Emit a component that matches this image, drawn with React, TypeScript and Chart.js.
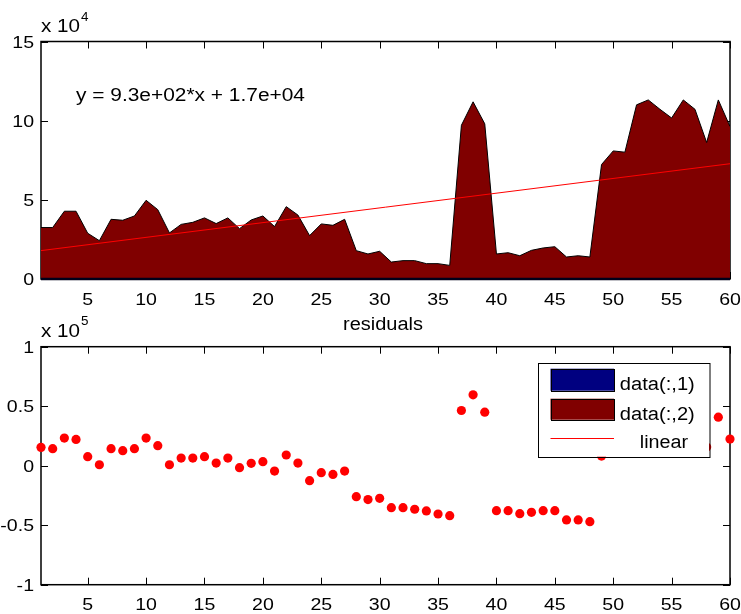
import React, { useEffect, useRef } from 'react';
import { Chart, registerables } from 'chart.js';

Chart.register(...registerables);

// ---------- data ----------
const xValues = [
  1, 2, 3, 4, 5, 6, 7, 8, 9, 10, 11, 12, 13, 14, 15, 16, 17, 18, 19, 20,
  21, 22, 23, 24, 25, 26, 27, 28, 29, 30, 31, 32, 33, 34, 35, 36, 37, 38, 39, 40,
  41, 42, 43, 44, 45, 46, 47, 48, 49, 50, 51, 52, 53, 54, 55, 56, 57, 58, 59, 60,
];

const data1 = [
  0, 0, 0, 0, 0, 0, 0, 0, 0, 0, 0, 0, 0, 0, 0, 0, 0, 0, 0, 0,
  0, 0, 0, 0, 0, 0, 0, 0, 0, 0, 0, 0, 0, 0, 0, 0, 0, 0, 0, 0,
  0, 0, 0, 0, 0, 0, 0, 0, 0, 0, 0, 0, 0, 0, 0, 0, 0, 0, 0, 0,
];

const data2 = [
  32500, 32500, 42800, 42800, 28900, 24200, 37700, 37100, 39800, 49700,
  43800, 29100, 34500, 35800, 38600, 35000, 38600, 31800, 37300, 39800,
  33100, 45700, 40400, 27400, 34800, 33900, 37700, 17900, 15800, 17500,
  10700, 11600, 11600, 9700, 9700, 8600, 97100, 111900, 98000, 15800,
  16600, 14700, 18100, 19600, 20400, 13900, 14700, 13900, 72300, 80900,
  80100, 110000, 113100, 107200, 101700, 113100, 107200, 86200, 113100, 96300,
];

// linear fit y = 9.3e+02*x + 1.7e+04, end points
const fitX = [1, 60];
const fitY = [17930, 72800];

const residuals = [
  15400, 14300, 23200, 22100, 7600, 800, 14300, 12600, 14300, 23200,
  16800, 800, 6400, 6400, 7600, 2200, 6400, -1700, 2000, 3400,
  -4500, 9000, 2200, -12600, -5900, -7300, -4500, -26000, -28500, -27400,
  -35300, -35300, -36600, -38000, -40600, -42000, 46400, 59600, 45000, -37800,
  -37800, -40300, -39200, -37800, -37800, -45600, -45600, -47000, 8100, 17400,
  15700, 44600, 46800, 40000, 33600, 44000, 37200, 15700, 40800, 22400,
];

const xTicks = [5, 10, 15, 20, 25, 30, 35, 40, 45, 50, 55, 60];
const topYTicks = [0, 50000, 100000, 150000];
const botYTicks = [-100000, -50000, 0, 50000, 100000];

const equationText = 'y = 9.3e+02*x + 1.7e+04';
const legendLabels = ['data(:,1)', 'data(:,2)', 'linear'];
const bottomTitle = 'residuals';

// ---------- styling ----------
const FONT = '"Liberation Sans", Arial, Helvetica, sans-serif';
const AREA_RED = '#800000';
const NAVY = '#000080';
const RED = '#ff0000';
const TICK_FONT = `17px ${FONT}`;
const TICK_SX = 1.15;

function fitText(ctx: CanvasRenderingContext2D, text: string, x: number, y: number, width: number, font: string, align: 'left' | 'center' = 'left') {
  ctx.save();
  ctx.font = font;
  const w = ctx.measureText(text).width;
  const sx = width / w;
  const left = align === 'center' ? x - width / 2 : x;
  ctx.translate(left, y);
  ctx.scale(sx, 1);
  ctx.textAlign = 'left';
  ctx.textBaseline = 'alphabetic';
  ctx.fillStyle = '#000';
  ctx.fillText(text, 0, 0);
  ctx.restore();
}

function scaledText(ctx: CanvasRenderingContext2D, text: string, x: number, y: number, align: 'right' | 'center') {
  ctx.save();
  ctx.font = TICK_FONT;
  const w = ctx.measureText(text).width * TICK_SX;
  const left = align === 'right' ? x - w : x - w / 2;
  ctx.translate(left, y);
  ctx.scale(TICK_SX, 1);
  ctx.textAlign = 'left';
  ctx.textBaseline = 'alphabetic';
  ctx.fillStyle = '#000';
  ctx.fillText(text, 0, 0);
  ctx.restore();
}

function drawTickLabels(chart: any, yTicks: number[], div: number) {
  const { ctx, chartArea: a } = chart;
  const xs = chart.scales.x;
  const ys = chart.scales.y;
  for (const t of xTicks) {
    scaledText(ctx, String(t), xs.getPixelForValue(t), a.bottom + 25.5, 'center');
  }
  for (const t of yTicks) {
    const label = String(Math.round((t / div) * 100) / 100);
    scaledText(ctx, label, a.left - 7, ys.getPixelForValue(t) + 6, 'right');
  }
}

function drawFrame(chart: any, yTicks: number[]) {
  const { ctx, chartArea: a } = chart;
  const xs = chart.scales.x;
  const ys = chart.scales.y;
  ctx.save();
  ctx.strokeStyle = '#000';
  ctx.lineWidth = 1.5;
  ctx.strokeRect(a.left, a.top, a.right - a.left, a.bottom - a.top);
  ctx.lineWidth = 1;
  ctx.beginPath();
  for (const t of xTicks) {
    const px = Math.round(xs.getPixelForValue(t)) + 0.5;
    ctx.moveTo(px, a.bottom);
    ctx.lineTo(px, a.bottom - 7);
    ctx.moveTo(px, a.top);
    ctx.lineTo(px, a.top + 7);
  }
  for (const t of yTicks) {
    const py = Math.round(ys.getPixelForValue(t)) + 0.5;
    ctx.moveTo(a.left, py);
    ctx.lineTo(a.left + 7, py);
    ctx.moveTo(a.right, py);
    ctx.lineTo(a.right - 7, py);
  }
  ctx.stroke();
  ctx.restore();
}

function drawExponent(ctx: CanvasRenderingContext2D, x: number, baseline: number, exp: string) {
  fitText(ctx, 'x 10', x, baseline, 39, `18px ${FONT}`);
  ctx.save();
  ctx.font = `12px ${FONT}`;
  ctx.fillStyle = '#000';
  ctx.textBaseline = 'alphabetic';
  ctx.translate(x + 40, baseline - 11.5);
  ctx.scale(1.12, 1);
  ctx.fillText(exp, 0, 0);
  ctx.restore();
}

function xScale(height: number) {
  return {
    type: 'linear' as const,
    min: 1,
    max: 60,
    grid: { display: false, drawTicks: false },
    border: { display: false },
    ticks: { display: false },
    afterBuildTicks: (scale: any) => {
      scale.ticks = xTicks.map((v) => ({ value: v }));
    },
    afterFit: (scale: any) => {
      scale.height = height;
      scale.paddingLeft = 0;
      scale.paddingRight = 0;
    },
  };
}

function yScale(min: number, max: number, ticks: number[]) {
  return {
    type: 'linear' as const,
    min,
    max,
    grid: { display: false, drawTicks: false },
    border: { display: false },
    ticks: { display: false },
    afterBuildTicks: (scale: any) => {
      scale.ticks = ticks.map((v) => ({ value: v }));
    },
    afterFit: (scale: any) => {
      scale.width = 41;
      scale.paddingTop = 0;
      scale.paddingBottom = 0;
    },
  };
}

export default function App() {
  const topRef = useRef<HTMLCanvasElement>(null);
  const botRef = useRef<HTMLCanvasElement>(null);

  useEffect(() => {
    const topChart = new Chart(topRef.current!, {
      type: 'line',
      data: {
        datasets: [
          {
            label: legendLabels[2],
            data: fitX.map((x, i) => ({ x, y: fitY[i] })),
            borderColor: RED,
            borderWidth: 1,
            pointRadius: 0,
            fill: false,
            order: 0,
          },
          {
            label: legendLabels[0],
            data: xValues.map((x, i) => ({ x, y: data1[i] })),
            borderColor: '#00001a',
            backgroundColor: NAVY,
            borderWidth: 2.5,
            pointRadius: 0,
            fill: false,
            clip: false as any,
            order: 1,
          },
          {
            label: legendLabels[1],
            data: xValues.map((x, i) => ({ x, y: data2[i] })),
            borderColor: '#000',
            backgroundColor: AREA_RED,
            borderWidth: 1,
            pointRadius: 0,
            fill: 'origin',
            order: 2,
          },
        ],
      },
      options: {
        responsive: false,
        animation: false,
        devicePixelRatio: 1,
        layout: { padding: { left: 0, right: 11, top: 41.5, bottom: 0 } },
        scales: {
          x: xScale(31) as any,
          y: yScale(0, 150000, topYTicks) as any,
        },
        plugins: { legend: { display: false }, tooltip: { enabled: false } },
      },
      plugins: [
        {
          id: 'topDecor',
          beforeDatasetsDraw(chart: any) {
            drawFrame(chart, topYTicks);
          },
          afterDraw(chart: any) {
            const { ctx, chartArea: a } = chart;
            drawTickLabels(chart, topYTicks, 1e4);
            drawExponent(ctx, a.left, 32, '4');
            fitText(ctx, equationText, a.left + 35, 100.5, 229, `18px ${FONT}`);
          },
        },
      ],
    });

    const botChart = new Chart(botRef.current!, {
      type: 'scatter',
      data: {
        datasets: [
          {
            label: bottomTitle,
            data: xValues.map((x, i) => ({ x, y: residuals[i] })),
            backgroundColor: RED,
            borderWidth: 0,
            pointRadius: 4.6,
            clip: false as any,
          },
        ],
      },
      options: {
        responsive: false,
        animation: false,
        devicePixelRatio: 1,
        layout: { padding: { left: 0, right: 11, top: 36.7, bottom: 0 } },
        scales: {
          x: xScale(29.3) as any,
          y: yScale(-100000, 100000, botYTicks) as any,
        },
        plugins: { legend: { display: false }, tooltip: { enabled: false } },
      },
      plugins: [
        {
          id: 'botDecor',
          beforeDatasetsDraw(chart: any) {
            drawFrame(chart, botYTicks);
          },
          afterDatasetsDraw(chart: any) {
            const { ctx, chartArea: a } = chart;
            // legend box
            const bl = a.right - 192.5;
            const bt = a.top + 16;
            const bw = 171.5;
            const bh = 94;
            ctx.save();
            ctx.fillStyle = '#fff';
            ctx.fillRect(bl, bt, bw, bh);
            ctx.strokeStyle = '#000';
            ctx.lineWidth = 1;
            ctx.strokeRect(Math.round(bl) + 0.5, Math.round(bt) + 0.5, bw, bh);
            // swatches
            ctx.fillStyle = NAVY;
            ctx.fillRect(bl + 13, bt + 6, 63.5, 22);
            ctx.strokeRect(Math.round(bl + 13) + 0.5, Math.round(bt + 6) + 0.5, 63, 22);
            ctx.fillStyle = AREA_RED;
            ctx.fillRect(bl + 13, bt + 36, 63.5, 21);
            ctx.strokeRect(Math.round(bl + 13) + 0.5, Math.round(bt + 36) + 0.5, 63, 21);
            ctx.strokeStyle = RED;
            ctx.beginPath();
            ctx.moveTo(bl + 13, Math.round(bt + 75) + 0.5);
            ctx.lineTo(bl + 76.5, Math.round(bt + 75) + 0.5);
            ctx.stroke();
            ctx.restore();
            fitText(ctx, legendLabels[0], bl + 82.3, bt + 27.3, 75, `18px ${FONT}`);
            fitText(ctx, legendLabels[1], bl + 82.3, bt + 57.3, 75, `18px ${FONT}`);
            fitText(ctx, legendLabels[2], bl + 102.3, bt + 85.6, 48.3, `18px ${FONT}`);
          },
          afterDraw(chart: any) {
            const { ctx, chartArea: a } = chart;
            drawTickLabels(chart, botYTicks, 1e5);
            drawExponent(ctx, a.left, 26.7, '5');
            fitText(ctx, bottomTitle, 383, 20, 80, `18px ${FONT}`, 'center');
          },
        },
      ],
    });

    return () => {
      topChart.destroy();
      botChart.destroy();
    };
  }, []);

  return (
    <div style={{ position: 'absolute', left: 0, top: 0, width: 741, height: 614, background: '#fff' }}>
      <canvas ref={topRef} width={741} height={310} style={{ position: 'absolute', left: 0, top: 0, display: 'block' }} />
      <canvas ref={botRef} width={741} height={304} style={{ position: 'absolute', left: 0, top: 310, display: 'block' }} />
    </div>
  );
}
